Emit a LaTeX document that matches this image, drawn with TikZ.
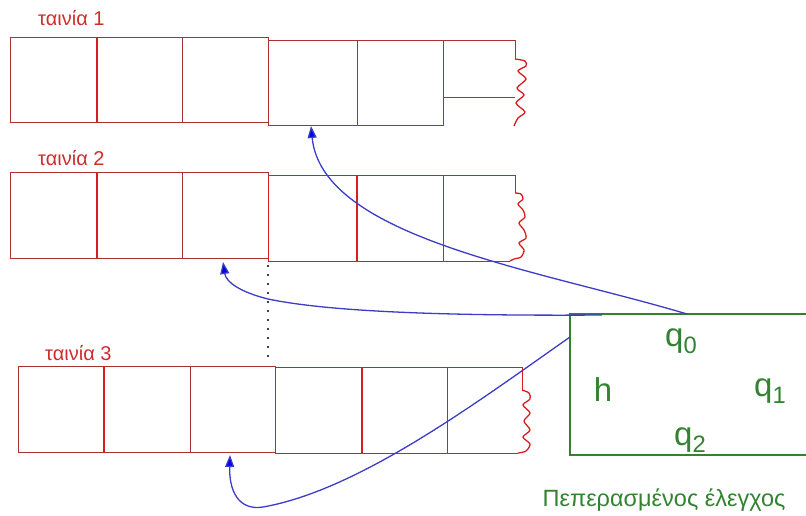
\documentclass[tikz,border=0pt]{standalone}
\usepackage{fontspec}
\setmainfont{Liberation Sans}
\usetikzlibrary{arrows.meta}
\definecolor{tapedark}{RGB}{170,50,50}
\definecolor{tapebright}{RGB}{215,30,30}
\definecolor{labred}{RGB}{205,45,45}
\definecolor{ctrlgreen}{RGB}{50,130,50}
\definecolor{arrowblue}{RGB}{60,60,200}
\definecolor{tipblue}{RGB}{0,0,235}
\newcommand\qsubs[1]{q\raisebox{-0.22em}{\scalebox{0.72}{#1}}}
\begin{document}
\begin{tikzpicture}[x=1pt,y=-1pt,
  tapeline/.style={draw=tapedark, line width=1pt},
  brightline/.style={draw=tapebright, line width=1pt},
  thickdiv/.style={draw=tapebright, line width=2.2pt},
  waveline/.style={draw=tapebright, line width=1.3pt},
  tapelabel/.style={text=labred, font=\fontsize{20}{20}\selectfont, anchor=west, inner sep=0pt},
  statelabel/.style={text=ctrlgreen, font=\fontsize{33}{33}\selectfont, inner sep=0pt},
  ctrllabel/.style={text=ctrlgreen, font=\fontsize{23.5}{23.5}\selectfont, inner sep=0pt},
  ctrlbox/.style={draw=ctrlgreen, line width=1.3pt},
  headarrow/.style={draw=arrowblue, line width=1.3pt, -{Triangle[length=12pt,width=9pt,fill=tipblue]}},
  dotline/.style={draw=black, line width=2.2pt, dash pattern=on 0pt off 9pt, line cap=round}]
\useasboundingbox (0,0) rectangle (806,515);

% ---- tape 1
\node[tapelabel] (lab1) at (38,18) {ταινία 1};
\draw[tapeline] (10,37) rectangle (268,122);
\draw[tapeline] (182,37) -- (182,122);
\draw[thickdiv] (97,37) -- (97,122);
\draw[tapeline] (268,40) rectangle (443,125);
\draw[brightline] (357,40) -- (357,125);
\draw[tapeline] (443,40) -- (515,40) -- (515,59);
\draw[tapeline] (443,97) -- (515,97);
\draw[waveline] plot[smooth] coordinates {(515,59) (525,61) (526,66) (518,71) (526,79) (517,88) (524,95) (516,103) (525,112) (518,118) (514,126)};

% ---- tape 2
\node[tapelabel] (lab2) at (38,158) {ταινία 2};
\draw[tapeline] (10,172) rectangle (268,258);
\draw[tapeline] (182,172) -- (182,258);
\draw[thickdiv] (97,172) -- (97,258);
\draw[brightline] (515,193) -- (515,175) -- (268,175) -- (268,261) -- (510,261);
\draw[thickdiv] (357,175) -- (357,261);
\draw[tapeline] (443,175) -- (443,261);
\draw[waveline] plot[smooth] coordinates {(515,193) (521,194) (523,199) (518,204) (523,210) (525,217) (519,223) (524,230) (526,238) (519,243) (524,250) (521,257) (514,259) (510,261)};

% ---- tape 3
\node[tapelabel] (lab3) at (45,353) {ταινία 3};
\draw[tapeline] (18,366) rectangle (275,452);
\draw[tapeline] (190,366) -- (190,452);
\draw[thickdiv] (104,366) -- (104,452);
\draw[brightline] (522,390) -- (522,367) -- (275,367) -- (275,453) -- (518,453);
\draw[thickdiv] (362,367) -- (362,453);
\draw[tapeline] (447,367) -- (447,453);
\draw[waveline] plot[smooth] coordinates {(522,390) (529,393) (530,399) (523,405) (530,413) (524,421) (530,430) (523,437) (530,444) (526,451) (518,453)};

% ---- dotted alignment line
\coordinate (dotA) at (268,266);
\coordinate (dotB) at (268,362);
\draw[dotline] (dotA) -- (dotB);

% ---- finite control
\coordinate (ctrlNE) at (806,314);
\coordinate (ctrlNW) at (570,314);
\coordinate (ctrlSW) at (570,455);
\coordinate (ctrlSE) at (806,455);
\draw[ctrlbox] (ctrlNE) -- (ctrlNW) -- (ctrlSW) -- (ctrlSE);
\node[statelabel] (q0) at (681,341) {\qsubs{0}};
\node[statelabel] (h) at (603,390) {h};
\node[statelabel] (q1) at (770,391) {\qsubs{1}};
\node[statelabel] (q2) at (690,440) {\qsubs{2}};
\node[ctrllabel] (ctrlname) at (664,500) {Πεπερασμένος έλεγχος};

% ---- heads
\coordinate (start1) at (687,314);
\coordinate (head1) at (311,126);
\coordinate (start2) at (602,315);
\coordinate (head2) at (223,262);
\coordinate (start3) at (570,337);
\coordinate (head3) at (230,455);
\draw[headarrow] (start1) .. controls (540,270) and (322,238) .. (head1);
\draw[headarrow] (start2) .. controls (450,316) and (330,312) .. (268,299) .. controls (240,292) and (226,282) .. (head2);
\draw[headarrow] (start3) .. controls (480,400) and (360,490) .. (263,507) .. controls (238,511) and (229,490) .. (head3);
\end{tikzpicture}
\end{document}
